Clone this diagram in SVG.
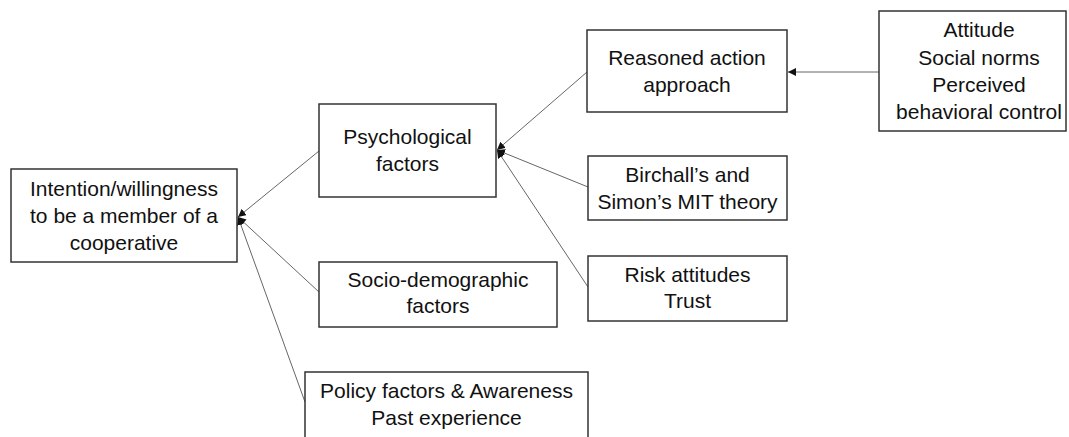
<svg xmlns="http://www.w3.org/2000/svg" width="1069" height="437" viewBox="0 0 1069 437">
<style>
.box{fill:#fff;stroke:#333;stroke-width:1.5}
.t{font-family:"Liberation Sans",Arial,sans-serif;font-size:21px;fill:#111;text-anchor:middle}
.c{stroke:#666;stroke-width:1;fill:none;marker-end:url(#ah)}
</style>
<defs>
<marker id="ah" viewBox="0 0 10 10" refX="10" refY="5" markerWidth="8" markerHeight="8" markerUnits="userSpaceOnUse" orient="auto">
<path d="M0,0 L10,5 L0,10 z" fill="#111"/>
</marker>
</defs>
<rect width="1069" height="437" fill="#fff"/>
<g id="connectors">
<line class="c" x1="319" y1="151" x2="238" y2="217"/>
<line class="c" x1="319" y1="292" x2="238" y2="217"/>
<line class="c" x1="305" y1="402" x2="238" y2="217"/>
<line class="c" x1="587" y1="72" x2="497" y2="150"/>
<line class="c" x1="588" y1="187" x2="497" y2="150"/>
<line class="c" x1="588" y1="287" x2="497" y2="150"/>
<line class="c" x1="879" y1="72" x2="788" y2="72"/>
</g>
<g id="intention">
<rect class="box" x="11" y="169" width="226" height="93"/>
<text class="t" x="124" y="196">Intention/willingness</text>
<text class="t" x="124" y="223">to be a member of a</text>
<text class="t" x="124" y="250">cooperative</text>
</g>
<g id="psychological">
<rect class="box" x="319" y="104" width="177" height="93"/>
<text class="t" x="407.5" y="144">Psychological</text>
<text class="t" x="407.5" y="171">factors</text>
</g>
<g id="socio">
<rect class="box" x="319" y="262" width="238" height="65"/>
<text class="t" x="438" y="287">Socio-demographic</text>
<text class="t" x="438" y="313">factors</text>
</g>
<g id="policy">
<rect class="box" x="305" y="372" width="283" height="80"/>
<text class="t" x="446.5" y="398">Policy factors &amp; Awareness</text>
<text class="t" x="446.5" y="425">Past experience</text>
</g>
<g id="reasoned">
<rect class="box" x="587" y="30" width="200" height="82"/>
<text class="t" x="687" y="65">Reasoned action</text>
<text class="t" x="687" y="92">approach</text>
</g>
<g id="birchall">
<rect class="box" x="588" y="156" width="199" height="64"/>
<text class="t" x="687.5" y="182">Birchall’s and</text>
<text class="t" x="687.5" y="209">Simon’s MIT theory</text>
</g>
<g id="risk">
<rect class="box" x="588" y="256" width="199" height="65"/>
<text class="t" x="687.5" y="282">Risk attitudes</text>
<text class="t" x="687.5" y="308">Trust</text>
</g>
<g id="attitude">
<rect class="box" x="879" y="11" width="187" height="120"/>
<text class="t" x="979" y="37">Attitude</text>
<text class="t" x="979" y="65">Social norms</text>
<text class="t" x="979" y="92">Perceived</text>
<text class="t" x="979" y="119">behavioral control</text>
</g>
</svg>
